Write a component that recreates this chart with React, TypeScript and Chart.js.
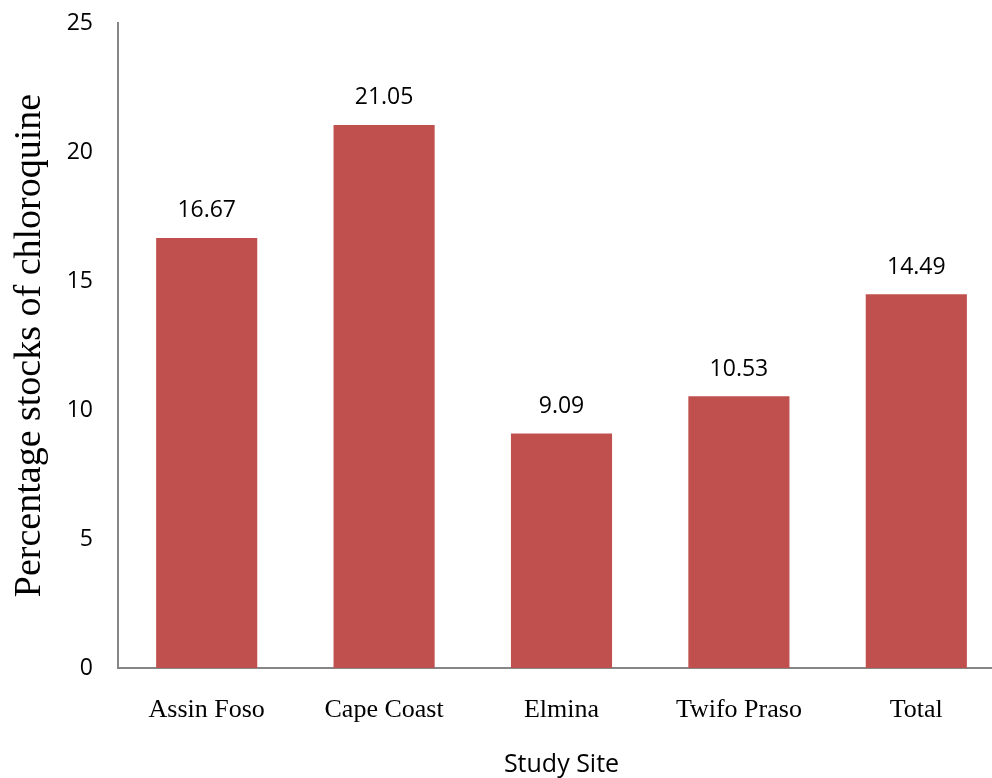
import React, { useEffect, useRef } from "react";
import { Chart, registerables } from "chart.js";

Chart.register(...registerables);

const categories = ["Assin Foso", "Cape Coast", "Elmina", "Twifo Praso", "Total"];
const values = [16.67, 21.05, 9.09, 10.53, 14.49];
const yTicks = [0, 5, 10, 15, 20, 25];
const yTitle = "Percentage stocks of chloroquine";
const xTitle = "Study Site";

const W = 1006;
const H = 778;

const labelPlugin = {
  id: "barLabels",
  afterDatasetsDraw(chart: any) {
    const ctx = chart.ctx;
    const meta = chart.getDatasetMeta(0);
    ctx.save();
    ctx.font = "23px 'Open Sans'";
    ctx.fillStyle = "#000";
    ctx.textAlign = "center";
    ctx.textBaseline = "middle";
    meta.data.forEach((bar: any, i: number) => {
      ctx.fillText(values[i].toFixed(2), bar.x, bar.y - 27);
    });
    ctx.restore();
  },
};

export default function App() {
  const ref = useRef<HTMLCanvasElement>(null);
  useEffect(() => {
    if (!ref.current) return;
    const chart = new Chart(ref.current, {
      type: "bar",
      data: {
        labels: categories,
        datasets: [
          {
            data: values,
            backgroundColor: "#C0504D",
            barPercentage: 0.57,
            categoryPercentage: 1,
          },
        ],
      },
      options: {
        responsive: false,
        animation: false,
        layout: { padding: { top: 23, right: 1, left: 0, bottom: 0 } },
        plugins: { legend: { display: false }, tooltip: { enabled: false } },
        scales: {
          x: {
            grid: { display: false, drawTicks: false },
            border: { display: true, color: "#868686", width: 2 },
            ticks: {
              color: "#000",
              font: { family: "'Liberation Serif'", size: 26 },
              padding: 27,
            },
            title: {
              display: true,
              text: xTitle,
              color: "#000",
              font: { family: "'Open Sans'", size: 25 },
              padding: { top: 0, bottom: -2 },
            },
            afterFit(scale: any) {
              scale.height = 110;
              scale.paddingLeft = 0;
              scale.paddingRight = 0;
            },
          },
          y: {
            min: 0,
            max: 25,
            afterBuildTicks(scale: any) {
              scale.ticks = yTicks.map((v) => ({ value: v }));
            },
            grid: { display: false, drawTicks: false },
            border: { display: true, color: "#868686", width: 2 },
            ticks: {
              color: "#000",
              font: { family: "'Open Sans'", size: 23 },
              padding: 25,
            },
            title: {
              display: true,
              text: yTitle,
              color: "#000",
              font: { family: "'Liberation Serif'", size: 38 },
              padding: { top: 7, bottom: 0 },
            },
            afterFit(scale: any) {
              scale.width = 118;
              scale.paddingTop = 0;
              scale.paddingBottom = 0;
            },
          },
        },
      },
      plugins: [labelPlugin],
    });
    return () => chart.destroy();
  }, []);
  return (
    <div
      style={{
        position: "fixed",
        left: 0,
        top: 0,
        width: 992,
        height: 778,
        overflow: "hidden",
        background: "#fff",
      }}
    >
      <canvas ref={ref} width={W} height={H} style={{ width: W, height: H, display: "block" }} />
    </div>
  );
}
